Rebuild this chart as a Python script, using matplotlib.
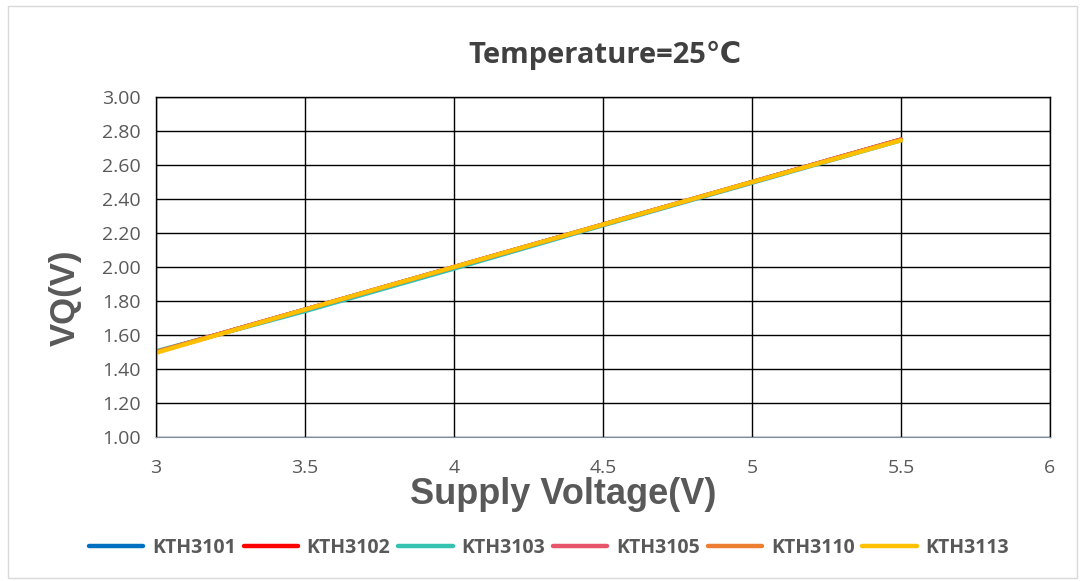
import matplotlib
matplotlib.use("Agg")
import matplotlib.pyplot as plt
from matplotlib.patches import Rectangle
from matplotlib import font_manager

supply_v = [3.0, 3.5, 4.0, 4.5, 5.0, 5.5]
kth3101 = [1.50, 1.75, 2.00, 2.25, 2.50, 2.75]
kth3102 = [1.50, 1.75, 2.00, 2.25, 2.50, 2.75]
kth3103 = [1.505, 1.74, 1.99, 2.245, 2.495, 2.745]
kth3105 = [1.50, 1.75, 2.00, 2.25, 2.50, 2.75]
kth3110 = [1.50, 1.75, 2.00, 2.25, 2.50, 2.75]
kth3113 = [1.495, 1.75, 2.00, 2.25, 2.50, 2.745]
series_names = ["KTH3101", "KTH3102", "KTH3103", "KTH3105", "KTH3110", "KTH3113"]
series_vals = [kth3101, kth3102, kth3103, kth3105, kth3110, kth3113]
colors = ["#0070C0", "#FF0000", "#33C3B0", "#E8546A", "#ED7D31", "#FFC000"]

x_ticks = [3, 3.5, 4, 4.5, 5, 5.5, 6]
x_tick_labels = ["3", "3.5", "4", "4.5", "5", "5.5", "6"]
y_ticks = [1.0, 1.2, 1.4, 1.6, 1.8, 2.0, 2.2, 2.4, 2.6, 2.8, 3.0]

names = {f.name for f in font_manager.fontManager.ttflist}
label_family = "Liberation Sans Narrow" if "Liberation Sans Narrow" in names else "Liberation Sans"
narrow = label_family == "Liberation Sans Narrow"

fig = plt.figure(figsize=(10.85, 5.81), dpi=100)
fig.patches.append(Rectangle((0.007, 0.005), 0.986, 0.985, transform=fig.transFigure,
                             fill=False, edgecolor="#D9D9D9", linewidth=1.0))
ax = fig.add_axes([0.1438, 0.2478, 0.8239, 0.5852])

for name, vals, c in zip(series_names, series_vals, colors):
    ax.plot(supply_v, vals, color=c, linewidth=3.0, label=name, solid_capstyle="round")

ax.set_xlim(3, 6)
ax.set_ylim(1.0, 3.0)
ax.set_xticks(x_ticks)
ax.set_xticklabels(x_tick_labels)
ax.set_yticks(y_ticks)
ax.set_yticklabels([f"{v:.2f}" for v in y_ticks])
ax.grid(True, color="black", linewidth=1.0)
ax.set_axisbelow(True)
for s in ["top", "right", "left"]:
    ax.spines[s].set_color("black")
    ax.spines[s].set_linewidth(1.0)
ax.spines["bottom"].set_color("#7F8FA0")
ax.tick_params(length=0, labelsize=14, labelcolor="#595959")
ax.tick_params(axis="y", pad=11)
ax.tick_params(axis="x", pad=16)
for lab in ax.get_xticklabels() + ax.get_yticklabels():
    lab.set_family("Open Sans")

ax.set_xlabel("Supply Voltage(V)", fontsize=30 if narrow else 26, fontweight="bold",
              color="#595959", family=label_family)
ax.xaxis.set_label_coords(0.456, -0.17)
ax.xaxis.label.set_va("center")
ax.set_ylabel("VQ(V)", fontsize=30 if narrow else 25, fontweight="bold", color="#595959",
              family=label_family)
ax.yaxis.set_label_coords(-0.101, 0.41)
ax.yaxis.label.set_va("center")
fig.text(0.558, 0.905, "Temperature=25℃", fontsize=21, fontweight="bold", color="#404040",
         family=["Open Sans", "DejaVu Sans"], ha="center", va="center")

leg = fig.legend(loc="center", bbox_to_anchor=(0.506, 0.057), ncol=6, frameon=False,
                 handlelength=2.8, columnspacing=0.4, handletextpad=0.45,
                 prop={"family": "Open Sans", "weight": "bold", "size": 14})
for t in leg.get_texts():
    t.set_color("#595959")
for h in leg.get_lines():
    h.set_linewidth(3.2)

fig.savefig("out.png", dpi=100)
